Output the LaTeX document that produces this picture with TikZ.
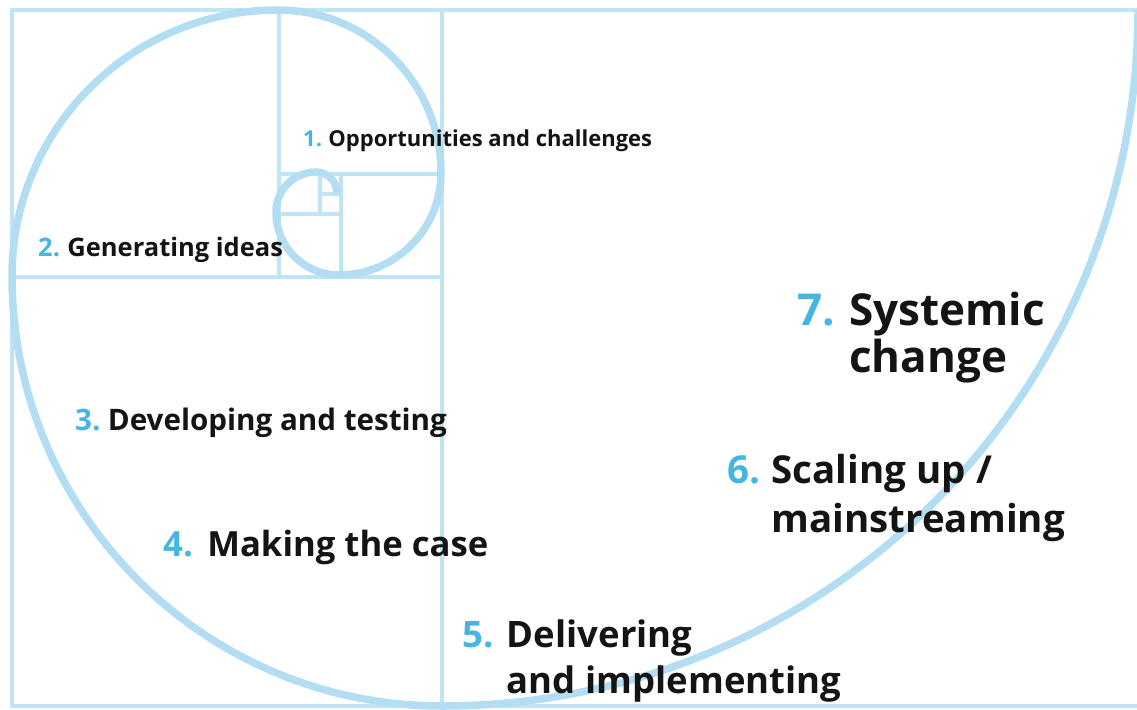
\documentclass[tikz,border=0pt]{standalone}
\usepackage{fontspec}
\setmainfont{Open Sans}
\usetikzlibrary{positioning}

\definecolor{spiralblue}{HTML}{B3DDF2}
\definecolor{gridblue}{HTML}{BFE4F6}
\definecolor{numblue}{HTML}{45B5E1}
\definecolor{textblack}{HTML}{141414}

\tikzset{
  fs/.style={font=\bfseries\fontsize{#1}{#1}\selectfont},
  num/.style={text=numblue, inner sep=0pt},
  phase/.style={text=textblack, inner sep=0pt}
}

\begin{document}
\begin{tikzpicture}[x=1pt,y=-1pt]
    \useasboundingbox (0,0) rectangle (1137,709);

    % golden rectangle and its squares
    \begin{scope}[draw=gridblue, line width=3.5pt]
        \draw (12,10) rectangle (1141,706);
        \draw (442,10) -- (442,706);
        \draw (12,277) -- (442,277);
        \draw (279,10) -- (279,277);
        \draw (279,174) -- (442,174);
        \draw (341,174) -- (341,277);
        \draw (279,214) -- (341,214);
        \draw (320,174) -- (320,214);
        \draw (320,194) -- (341,194);
    \end{scope}

    % spiral
    \draw[spiralblue, line width=7.5pt]
        (1138,10) arc[start angle=0,   end angle=90,  radius=696]
                  arc[start angle=90,  end angle=180, radius=430]
                  arc[start angle=180, end angle=270, radius=266]
                  arc[start angle=270, end angle=360, radius=163]
                  arc[start angle=0,   end angle=90,  radius=102]
                  arc[start angle=90,  end angle=180, radius=63]
                  arc[start angle=180, end angle=270, radius=40]
                  arc[start angle=270, end angle=360, radius=21];

    % stages
    \node[num, fs=22, anchor=base west] (n1) at (303,146) {1.};
    \node[phase, fs=22, base right=6pt of n1] (t1) {Opportunities and challenges};

    \node[num, fs=25.5, anchor=base west] (n2) at (38,256) {2.};
    \node[phase, fs=25.5, base right=7pt of n2] (t2) {Generating ideas};

    \node[num, fs=29.6, anchor=base west] (n3) at (75,430) {3.};
    \node[phase, fs=29.6, base right=7pt of n3] (t3) {Developing and testing};

    \node[num, fs=34.7, anchor=base west] (n4) at (163,556) {4.};
    \node[phase, fs=34.7, base right=14pt of n4] (t4) {Making the case};

    \node[num, fs=36.5, anchor=base west] (n5) at (462,647) {5.};
    \node[phase, fs=36.5, base right=13pt of n5] (t5) {Delivering};
    \node[phase, fs=36.5, below=46pt of t5.base west, anchor=base west] (t5b) {and implementing};

    \node[num, fs=38.5, anchor=base west] (n6) at (727,483) {6.};
    \node[phase, fs=38.5, base right=11pt of n6] (t6) {Scaling up /};
    \node[phase, fs=38.5, below=49pt of t6.base west, anchor=base west] (t6b) {mainstreaming};

    \node[num, fs=44, anchor=base west] (n7) at (797,325) {7.};
    \node[phase, fs=44, base right=14pt of n7] (t7) {Systemic};
    \node[phase, fs=44, below=47pt of t7.base west, anchor=base west] (t7b) {change};
\end{tikzpicture}
\end{document}
